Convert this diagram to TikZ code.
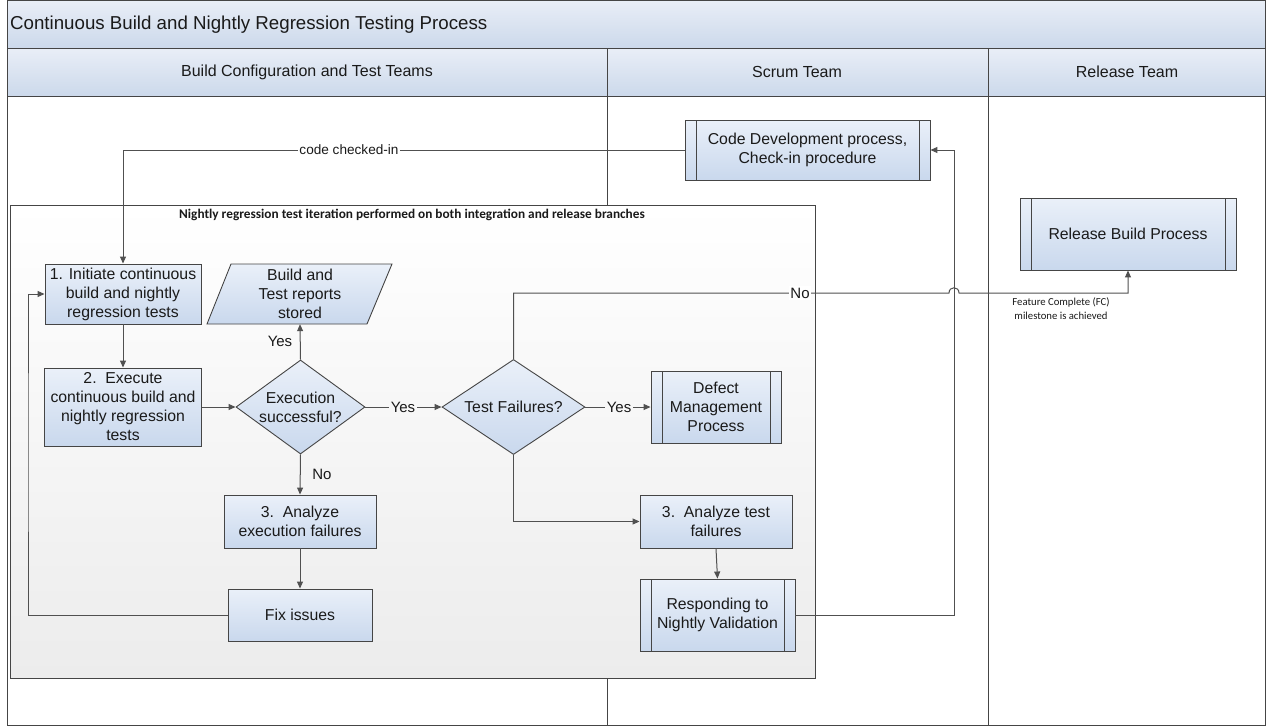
\documentclass[tikz,border=0pt]{standalone}
\usepackage{fontspec}
\setmainfont{Liberation Sans}
\newfontfamily\calfont{Carlito}
\usetikzlibrary{arrows.meta,shapes.geometric}
\definecolor{ln}{HTML}{454545}
\definecolor{cn}{HTML}{505050}
\definecolor{ntop}{HTML}{EAF0F9}
\definecolor{nbot}{HTML}{C9D8ED}
\definecolor{htop}{HTML}{E9EEF7}
\definecolor{hbot}{HTML}{CCD9EB}
\definecolor{cbot}{HTML}{ECECEC}
\definecolor{tx}{HTML}{1A1A1A}
\tikzset{
 proc/.style={draw=ln, line width=0.9pt, top color=ntop, bottom color=nbot, align=center, inner sep=2pt, font=\fontsize{15.8}{19}\selectfont, text=tx},
 sub/.style={proc, path picture={\draw[ln,line width=0.8pt] ([xshift=11pt]path picture bounding box.north west) -- ([xshift=11pt]path picture bounding box.south west) ([xshift=-11pt]path picture bounding box.north east) -- ([xshift=-11pt]path picture bounding box.south east);}},
 dec/.style={shape=diamond, draw=ln, line width=0.9pt, top color=ntop, bottom color=nbot, inner sep=0pt},
 dectext/.style={font=\fontsize{15.8}{19}\selectfont, text=tx, align=center},
 arr/.style={draw=cn, line width=1pt, -{Triangle[length=7pt,width=6pt]}},
 lbl/.style={font=\fontsize{15}{17}\selectfont, text=tx, inner sep=1.5pt},
 hdr/.style={font=\fontsize{16}{19}\selectfont, text=tx},
}
\begin{document}
\begin{tikzpicture}[x=1pt,y=-1pt]
\useasboundingbox (0,0) rectangle (1267,726);
\fill[white] (0,0) rectangle (1267,726);
% pool and lanes
\shade[top color=htop,bottom color=hbot,draw=ln,line width=0.9pt] (7,0) rectangle (1265,48);
\shade[top color=htop,bottom color=hbot,draw=ln,line width=0.9pt] (7,48) rectangle (1265,96);
\draw[ln,line width=0.9pt] (607,48) -- (607,725) (988,48) -- (988,725);
\draw[ln,line width=1pt] (7,0) rectangle (1265,725);
\node[anchor=west,font=\fontsize{18.7}{22}\selectfont,text=tx,inner sep=0pt] (title) at (10,24.5) {Continuous Build and Nightly Regression Testing Process};
\node[hdr] (h1) at (307,72) {Build Configuration and Test Teams};
\node[hdr] (h2) at (797,72) {Scrum Team};
\node[hdr] (h3) at (1127,72) {Release Team};
% container
\shade[top color=white,bottom color=cbot,draw=ln,line width=0.9pt] (10,205) rectangle (815,678);
\node[font=\calfont\bfseries\fontsize{13.3}{15}\selectfont,text=tx] (ctitle) at (412,214.5) {Nightly regression test iteration performed on both integration and release branches};
% nodes
\node[sub, minimum width=245pt, minimum height=60pt] (code) at (807.5,150) {Code Development process,\\Check-in procedure};
\node[sub, minimum width=216pt, minimum height=72pt] (rel) at (1128,234) {Release Build Process};
\node[proc, minimum width=156pt, minimum height=60pt] (n1) at (123,294) {1. Initiate continuous\\build and nightly\\regression tests};
\node[proc, minimum width=157pt, minimum height=78pt] (n2) at (123,407) {2.\ \ Execute\\continuous build and\\nightly regression\\tests};
\shade[top color=ntop,bottom color=nbot,draw=ln,line width=0.9pt] (207,324) -- (367,324) -- (392,264) -- (231,264) -- cycle;
\node[align=center,font=\fontsize{15.8}{19}\selectfont,text=tx,minimum height=60pt,inner sep=0pt] (rep) at (300,294) {Build and\\Test reports\\stored};
\node[dec, minimum width=129pt, minimum height=94pt, label={[dectext]center:Execution\\successful?}] (d1) at (300.5,407) {};
\node[dec, minimum width=143pt, minimum height=95pt, label={[dectext]center:Test Failures?}] (d2) at (513.5,407) {};
\node[sub, minimum width=130pt, minimum height=72pt] (defect) at (716,407) {Defect\\Management\\Process};
\node[proc, minimum width=152pt, minimum height=53pt] (at) at (716,521.5) {3.\ \ Analyze test\\failures};
\node[sub, minimum width=155pt, minimum height=72pt] (resp) at (717.5,615) {Responding to\\Nightly Validation};
\node[proc, minimum width=152pt, minimum height=53pt] (ae) at (300,521.5) {3.\ \ Analyze\\execution failures};
\node[proc, minimum width=144pt, minimum height=52pt] (fix) at (300,615) {Fix issues};
% helper coordinates
\coordinate (lp) at (28,450);
\coordinate (rv) at (954,150);
\coordinate (jl) at (949,293);
\coordinate (jr) at (959,293);
% connectors
\draw[arr] (code.west) -| (n1.north);
\node[lbl, fill=white, font=\fontsize{13.6}{15}\selectfont] (lcc) at (349,150) {code checked-in};
\draw[arr] (n1.south) -- (n2.north);
\draw[arr] (n2.east) -- (d1.west);
\draw[arr] (d1.north) -- (rep.south);
\node[lbl] (ly1) at (280,341) {Yes};
\draw[arr] (d1.east) -- (d2.west);
\node[lbl, fill=cbot!40!white] (ly2) at (403,407) {Yes};
\draw[arr] (d1.south) -- (ae.north);
\node[lbl] (ln1) at (322,474) {No};
\draw[arr] (ae.south) -- (fix.north);
\draw[arr] (fix.west) -| (lp) |- (n1.west);
\draw[arr] (d2.east) -- (defect.west);
\node[lbl, fill=cbot!40!white] (ly3) at (619,407) {Yes};
\draw[arr] (d2.south) |- (at.west);
\draw[arr] (at.south) -- (resp.north);
\draw[arr] (resp.east) -| (rv) -- (code.east);
\draw[arr] (d2.north) |- (jl) .. controls +(0,-7) and +(0,-7) .. (jr) -| (rel.south);
\node[lbl, fill=white] (ln2) at (800,293) {No};
\node[font=\calfont\fontsize{10.7}{14}\selectfont, align=center, text=tx] (fc) at (1061,309) {Feature Complete (FC)\\milestone is achieved};
\end{tikzpicture}
\end{document}
